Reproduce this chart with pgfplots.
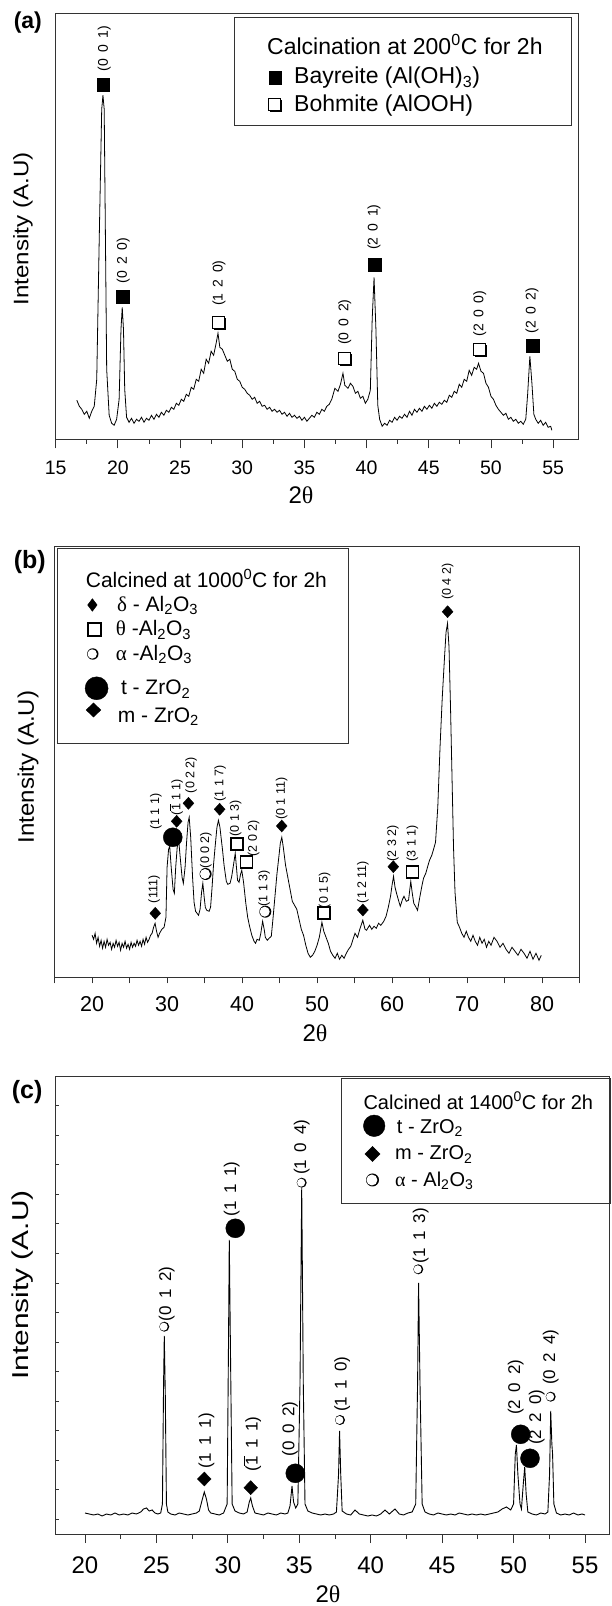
\documentclass[border=0pt]{standalone}
\usepackage{fontspec}
\setmainfont{Liberation Sans}
\newfontfamily\grk{Liberation Serif}
\usepackage{graphicx}
\usepackage{pgfplots}
\pgfplotsset{compat=1.18}

\pgfdeclareplotmark{shsq}{%
  \begin{pgfscope}\pgfsetfillcolor{black}%
  \pgfpathrectangle{\pgfpoint{-\pgfplotmarksize+1.6pt}{-\pgfplotmarksize-1.6pt}}{\pgfpoint{2\pgfplotmarksize}{2\pgfplotmarksize}}%
  \pgfusepathqfill\end{pgfscope}%
  \begin{pgfscope}\pgfsetfillcolor{white}\pgfsetstrokecolor{black}\pgfsetlinewidth{0.8pt}%
  \pgfpathrectangle{\pgfpoint{-\pgfplotmarksize}{-\pgfplotmarksize}}{\pgfpoint{2\pgfplotmarksize}{2\pgfplotmarksize}}%
  \pgfusepathqfillstroke\end{pgfscope}}
\pgfdeclareplotmark{shci}{%
  \begin{pgfscope}\pgfsetfillcolor{black}%
  \pgfpathcircle{\pgfpoint{0pt}{0pt}}{\pgfplotmarksize}\pgfusepathqfill\end{pgfscope}%
  \begin{pgfscope}\pgfsetfillcolor{white}%
  \pgfpathcircle{\pgfpoint{-0.6pt}{0pt}}{\pgfplotmarksize-1.0pt}\pgfusepathqfill\end{pgfscope}}

\newcommand\PP[2]{({#1pt},{1606pt-#2pt})}
\newcommand\mk[3][]{\tikz[#1]{\pgfsetplotmarksize{#2}\pgfuseplotmark{#3}}}
\newcommand\fs[1]{\fontsize{#1}{#1}\selectfont}
\newcommand\hkl[3]{(#1\hspace{.45em}#2\hspace{.45em}#3)}
\newcommand\bone{$\overline{\mbox{1}}$}
\tikzset{
  labA/.style={rotate=90, anchor=west, inner sep=0pt, font=\fs{14}},
  labB/.style={rotate=90, anchor=west, inner sep=0pt, font=\fs{12.5}},
  labC/.style={rotate=90, anchor=west, inner sep=0pt, font=\fs{17}},
}
\pgfplotsset{xrd/.style={scale only axis, anchor=south west,
  axis line style={line width=1pt, black!80},
  tick style={line width=0.9pt, black!80},
  xtick pos=left, ytick=\empty, tick align=outside, clip=false,
  /pgf/number format/assume math mode=true}}

\begin{document}
\begin{tikzpicture}
\path[use as bounding box] (0,0) rectangle (611pt,1606pt);

% ---------------- (a) ----------------
\begin{axis}[xrd, at={(55.7pt,1166.7pt)}, width=522.3pt, height=426pt,
  xmin=15, xmax=57, ymin=0, ymax=426,
  xtick={15,20,...,55}, minor xtick={17.5,22.5,...,52.5},
  major tick length=9pt, minor tick length=4.5pt,
  xticklabel style={font=\fs{19.5}, yshift=-9pt}]
\addplot[black, line width=0.8pt] coordinates {
(16.7,39)(16.9,33)(17.1,30)(17.3,25)(17.5,28)(17.7,21)(17.9,28)(18.1,33)(18.3,60)(18.5,200)(18.7,330)(18.8,344)(18.9,330)(19.0,200)(19.1,70)(19.3,24)(19.5,16)(19.7,14)(19.9,20)(20.1,40)(20.25,110)(20.35,132)(20.45,110)(20.55,50)(20.7,22)(20.9,17)(21.1,21)(21.3,16)(21.5,20)(21.7,18)(21.9,22)(22.1,17)(22.3,21)(22.5,19)(22.7,24)(22.9,20)(23.1,25)(23.3,22)(23.5,27)(23.7,24)(23.9,29)(24.1,27)(24.3,32)(24.5,30)(24.7,36)(24.9,34)(25.1,40)(25.3,38)(25.5,45)(25.7,43)(25.9,52)(26.1,50)(26.3,60)(26.5,58)(26.7,70)(26.9,66)(27.1,80)(27.3,76)(27.5,88)(27.7,84)(27.9,96)(28.05,106)(28.2,92)(28.4,90)(28.6,84)(28.8,78)(29.0,80)(29.2,70)(29.4,68)(29.6,60)(29.8,58)(30.0,52)(30.2,50)(30.4,46)(30.6,44)(30.8,40)(31.0,42)(31.2,36)(31.4,38)(31.6,33)(31.8,34)(32.0,30)(32.2,32)(32.4,28)(32.6,30)(32.8,27)(33.0,29)(33.2,25)(33.4,27)(33.6,23)(33.8,26)(34.0,22)(34.2,24)(34.4,21)(34.6,23)(34.8,19)(35.0,22)(35.2,18)(35.4,21)(35.6,24)(35.8,22)(36.0,27)(36.2,25)(36.4,30)(36.6,28)(36.8,33)(37.0,35)(37.2,40)(37.45,51)(37.7,48)(37.9,55)(38.1,66)(38.25,54)(38.5,51)(38.7,56)(38.9,53)(39.1,46)(39.3,48)(39.5,41)(39.7,43)(39.9,36)(40.1,40)(40.3,49)(40.45,120)(40.6,162)(40.75,110)(40.9,34)(41.05,20)(41.25,13)(41.45,16)(41.65,14)(41.85,19)(42.05,17)(42.25,22)(42.45,19)(42.65,23)(42.85,21)(43.05,25)(43.25,22)(43.45,28)(43.65,24)(43.85,30)(44.05,27)(44.25,31)(44.45,28)(44.65,33)(44.85,30)(45.05,34)(45.25,31)(45.45,36)(45.65,33)(45.85,37)(46.05,35)(46.25,39)(46.45,37)(46.65,44)(46.85,42)(47.05,48)(47.25,46)(47.45,55)(47.65,52)(47.85,60)(48.05,58)(48.25,69)(48.45,64)(48.65,72)(48.85,70)(49.0,76)(49.2,68)(49.4,66)(49.6,56)(49.8,52)(50.0,43)(50.2,40)(50.4,34)(50.6,30)(50.8,27)(51.0,24)(51.2,26)(51.4,20)(51.6,22)(51.8,18)(52.0,20)(52.2,16)(52.4,18)(52.6,15)(52.8,20)(52.95,45)(53.13,83)(53.3,55)(53.45,25)(53.6,20)(53.8,16)(54.0,19)(54.2,14)(54.4,17)(54.6,12)(54.8,13)(54.9,9)};
\addplot[only marks, black, mark=square*, mark size=6.25pt] coordinates {(18.83,354.8)(20.4,142.6)(40.64,174.8)(53.34,93.8)};
\addplot[only marks, black, mark=shsq, mark size=6pt] coordinates {(28.12,116.8)(38.18,80.5)(49.1,89.6)};
\node[labA] at (axis cs:18.9,367.6) {\hkl001};
\node[labA] at (axis cs:20.44,156) {\hkl020};
\node[labA] at (axis cs:28.14,133.3) {\hkl120};
\node[labA] at (axis cs:38.25,94.3) {\hkl002};
\node[labA] at (axis cs:40.6,189.3) {\hkl201};
\node[labA] at (axis cs:49.1,102.6) {\hkl200};
\node[labA] at (axis cs:53.3,106) {\hkl202};
\end{axis}

% ---------------- (b) ----------------
\begin{axis}[xrd, at={(54.6pt,628.7pt)}, width=524.9pt, height=430.6pt,
  xmin=15, xmax=85, ymin=0, ymax=430.6,
  xtick={20,30,...,80}, minor xtick={15,25,...,85},
  major tick length=6pt, minor tick length=6pt,
  xticklabel style={font=\fs{21.5}, yshift=-10pt}]
\addplot[black, line width=0.8pt] coordinates {
(20.0,42)(20.2,38)(20.4,44)(20.6,34)(20.8,40)(21.0,31)(21.2,37)(21.4,29)(21.6,36)(21.8,30)(22.0,38)(22.2,32)(22.4,35)(22.6,28)(22.8,34)(23.0,30)(23.2,37)(23.4,31)(23.6,35)(23.8,27)(24.0,34)(24.2,30)(24.4,36)(24.6,29)(24.8,33)(25.0,28)(25.2,35)(25.4,30)(25.6,34)(25.8,31)(26.0,37)(26.2,32)(26.4,36)(26.6,31)(26.8,38)(27.0,33)(27.2,40)(27.4,35)(27.6,38)(27.8,42)(28.0,44)(28.2,50)(28.4,54)(28.6,46)(28.8,40)(29.0,44)(29.3,48)(29.6,50)(29.85,60)(30.0,110)(30.2,128)(30.35,131)(30.55,110)(30.8,88)(30.97,84)(31.15,110)(31.35,130)(31.55,137)(31.75,120)(32.0,100)(32.17,94)(32.4,110)(32.6,135)(32.8,155)(32.95,160)(33.15,140)(33.4,100)(33.6,75)(33.8,66)(34.0,64)(34.2,62)(34.4,68)(34.6,85)(34.77,94)(34.95,80)(35.1,70)(35.3,67)(35.6,66)(35.8,70)(36.0,90)(36.2,113)(36.4,130)(36.65,150)(36.85,157)(37.05,150)(37.2,140)(37.4,127)(37.6,112)(37.9,96)(38.1,93)(38.4,94)(38.6,100)(38.85,112)(39.09,124)(39.25,110)(39.4,97)(39.6,95)(39.8,103)(39.96,107)(40.2,95)(40.5,74)(40.75,60)(41.0,51)(41.3,42)(41.6,36)(41.8,34)(42.0,38)(42.3,37)(42.5,44)(42.74,56)(42.95,48)(43.1,40)(43.36,37)(43.6,39)(43.9,41)(44.14,60)(44.4,82)(44.66,104)(44.9,120)(45.1,134)(45.3,140)(45.5,130)(45.8,112)(46.1,100)(46.4,88)(46.7,76)(47.0,72)(47.3,68)(47.6,58)(47.9,48)(48.2,42)(48.5,32)(48.8,24)(49.1,20)(49.4,22)(49.7,26)(50.0,32)(50.3,40)(50.65,55)(50.9,46)(51.2,40)(51.5,34)(51.8,26)(52.1,22)(52.4,19)(52.7,24)(53.0,18)(53.3,22)(53.6,19)(53.9,24)(54.2,28)(54.5,31)(54.8,38)(55.06,44)(55.4,40)(55.7,48)(56.1,57)(56.4,48)(56.6,47)(57.0,52)(57.3,48)(57.6,51)(57.9,49)(58.2,54)(58.5,52)(58.9,56)(59.2,61)(59.5,70)(59.8,81)(60.0,92)(60.2,101)(60.4,90)(60.6,84)(60.9,76)(61.1,71)(61.4,78)(61.6,81)(61.9,76)(62.2,77)(62.5,96)(62.7,84)(62.9,74)(63.2,70)(63.4,67)(63.7,80)(64.0,92)(64.2,99)(64.5,104)(64.8,112)(65.0,117)(65.3,122)(65.5,127)(65.8,135)(66.1,170)(66.4,230)(66.7,280)(67.0,320)(67.2,345)(67.4,354)(67.6,330)(67.8,270)(68.0,200)(68.2,130)(68.4,85)(68.7,55)(69.0,50)(69.3,44)(69.6,40)(69.9,46)(70.2,40)(70.5,36)(70.8,42)(71.1,36)(71.4,32)(71.7,40)(72.0,34)(72.3,38)(72.6,30)(72.9,36)(73.2,32)(73.6,40)(74.0,36)(74.4,30)(74.8,34)(75.2,28)(75.6,24)(76.0,30)(76.4,26)(76.8,22)(77.2,28)(77.6,24)(78.0,19)(78.4,26)(78.8,18)(79.2,24)(79.6,17)(79.9,22)};
\addplot[only marks, black, mark=diamond*, mark size=6pt, mark options={xscale=1.2}] coordinates {(28.42,64)(31.28,156)(32.85,174)(37.01,168)(45.29,151.3)(56.11,67.3)(60.17,110.6)(67.41,365.6)};
\addplot[only marks, black, mark=*, mark size=9.5pt] coordinates {(30.76,140)};
\addplot[only marks, black, mark=square, mark size=6pt, mark options={line width=1.8pt, fill=white}] coordinates {(39.3,133.3)(40.6,115)(50.91,64)(62.72,105.6)};
\addplot[only marks, black, mark=shci, mark size=6pt] coordinates {(35.14,103.3)(43.1,65.6)};
\node[labB] at (axis cs:28.26,74) {(111)};
\node[labB] at (axis cs:28.52,147.3) {(1 1 1)};
\node[labB] at (axis cs:31.23,162) {(\bone\ 1 1)};
\node[labB] at (axis cs:33.2,184) {(0 2 2)};
\node[labB] at (axis cs:35.19,109) {(0 0 2)};
\node[labB] at (axis cs:37.06,175.6) {(1 1 7)};
\node[labB] at (axis cs:39.14,140.6) {(0 1 3)};
\node[labB] at (axis cs:41.54,120.6) {(2 0 2)};
\node[labB] at (axis cs:42.94,70.6) {(1 1 3)};
\node[labB] at (axis cs:45.29,157.3) {(0 1 11)};
\node[labB] at (axis cs:51.0,69) {(0 1 5)};
\node[labB] at (axis cs:56.1,74) {(1 2 11)};
\node[labB] at (axis cs:60.1,115.6) {(2 3 2)};
\node[labB] at (axis cs:62.7,115.6) {(3 1 1)};
\node[labB] at (axis cs:67.4,377.3) {(0 4 2)};
\end{axis}

% ---------------- (c) ----------------
\begin{axis}[xrd, at={(55.7pt,72pt)}, width=553.8pt, height=457.3pt,
  xmin=17.949, xmax=56.715, ymin=0, ymax=457.3,
  xtick={20,25,...,55}, minor xtick={22.5,27.5,...,52.5},
  major tick length=9pt, minor tick length=5pt,
  xticklabel style={font=\fs{24}, yshift=-10.5pt}]
\addplot[black, line width=0.9pt] coordinates {
(20.0,21)(20.3,20)(20.6,19)(20.9,20)(21.2,18)(21.5,20)(21.8,19)(22.1,21)(22.4,19)(22.7,20)(23.0,19)(23.3,21)(23.6,20)(23.9,22)(24.1,25)(24.3,26)(24.5,23)(24.7,24)(24.9,21)(25.1,20)(25.3,21)(25.42,30)(25.5,150)(25.55,198)(25.62,140)(25.7,30)(25.8,22)(26.0,20)(26.3,19)(26.6,21)(26.9,20)(27.2,19)(27.5,20)(27.8,21)(28.0,23)(28.2,34)(28.35,42)(28.5,35)(28.65,24)(28.8,21)(29.1,20)(29.4,19)(29.7,21)(29.95,30)(30.05,200)(30.1,294)(30.17,200)(30.3,30)(30.5,23)(30.8,21)(31.1,20)(31.35,22)(31.5,32)(31.6,36)(31.72,28)(31.9,21)(32.2,20)(32.5,19)(32.8,21)(33.1,20)(33.4,19)(33.7,21)(34.0,20)(34.2,21)(34.35,28)(34.49,48)(34.6,32)(34.75,26)(34.9,30)(35.05,150)(35.17,346)(35.28,150)(35.4,30)(35.6,23)(35.9,21)(36.2,20)(36.5,19)(36.8,20)(37.1,19)(37.4,20)(37.6,22)(37.75,60)(37.82,103)(37.9,60)(38.0,23)(38.3,20)(38.6,19)(38.9,24)(39.2,20)(39.5,19)(39.8,18)(40.1,19)(40.4,18)(40.7,20)(41.0,24)(41.3,20)(41.7,25)(42.0,20)(42.3,19)(42.6,21)(42.9,22)(43.15,30)(43.28,150)(43.35,251)(43.45,150)(43.6,30)(43.8,22)(44.1,20)(44.4,19)(44.7,21)(45.0,20)(45.3,19)(45.6,20)(45.9,19)(46.2,21)(46.5,20)(46.8,19)(47.1,20)(47.4,19)(47.7,20)(48.0,19)(48.3,20)(48.6,21)(48.9,22)(49.2,25)(49.5,27)(49.8,24)(50.0,30)(50.12,80)(50.2,89)(50.3,60)(50.45,30)(50.55,25)(50.68,50)(50.78,67)(50.88,40)(51.0,22)(51.3,20)(51.6,19)(51.9,21)(52.2,20)(52.4,22)(52.52,60)(52.6,123)(52.68,90)(52.73,80)(52.82,30)(53.0,21)(53.3,19)(53.6,20)(53.9,19)(54.2,21)(54.5,19)(54.8,20)(55.0,19)};
\addplot[only marks, black, mark=shci, mark size=5pt] coordinates {(25.55,207.3)(35.17,351.3)(37.85,114)(43.33,264.7)(52.6,137.3)};
\addplot[only marks, black, mark=*, mark size=9.5pt] coordinates {(30.52,305.7)(34.72,60.7)(50.5,99.7)(51.15,75.7)};
\addplot[only marks, black, mark=diamond*, mark size=7pt, mark options={xscale=1.3}] coordinates {(28.35,55)(31.6,46.3)};
\node[labC] at (axis cs:25.72,212.3) {\hkl012};
\node[labC] at (axis cs:28.51,65.7) {\hkl111};
\node[labC] at (axis cs:30.27,317.3) {\hkl111};
\node[labC] at (axis cs:31.72,62.3) {\hkl{\bone}11};
\node[labC] at (axis cs:34.35,77.3) {\hkl002};
\node[labC] at (axis cs:35.17,359) {\hkl104};
\node[labC] at (axis cs:38.0,122) {\hkl110};
\node[labC] at (axis cs:43.5,270.7) {\hkl113};
\node[labC] at (axis cs:50.15,119) {\hkl202};
\node[labC] at (axis cs:51.62,89) {\hkl220};
\node[labC] at (axis cs:52.6,149) {\hkl024};
\end{axis}
\begin{axis}[at={(55.7pt,72pt)}, anchor=south west, scale only axis, width=553.8pt, height=457.3pt,
  xmin=17.949, xmax=56.715, ymin=0, ymax=457.3,
  axis x line=none, axis y line*=left,
  axis line style={line width=1pt, black!80}, tick style={line width=0.9pt, black!80},
  ytick={14.7,44.24,73.78,103.32,132.86,162.4,191.94,221.48,251.02,280.56,310.1,339.64,369.18,398.72,428.26},
  yticklabels={}, tick align=inside, major tick length=3pt]
\addplot[draw=none] coordinates {(20,0)};
\end{axis}

% ---------------- panel letters, axis titles ----------------
\node[anchor=base west, inner sep=0pt, font=\fs{23}\bfseries] at \PP{13.6}{28.3} {(a)};
\node[anchor=base west, inner sep=0pt, font=\fs{25}\bfseries] at \PP{13.6}{568.3} {(b)};
\node[anchor=base west, inner sep=0pt, font=\fs{25}\bfseries] at \PP{11.7}{1098.3} {(c)};
\node[font=\fs{24}, inner sep=0pt, anchor=base] at \PP{301}{504} {2{\grk θ}};
\node[font=\fs{24}, inner sep=0pt, anchor=base] at \PP{315}{1042} {2{\grk θ}};
\node[font=\fs{24}, inner sep=0pt, anchor=base] at \PP{328}{1602.5} {2{\grk θ}};
\node[rotate=90, font=\fs{21}, inner sep=0pt] at \PP{23}{229} {\scalebox{1.15}[1]{Intensity (A.U)}};
\node[rotate=90, font=\fs{22.5}, inner sep=0pt] at \PP{28}{767} {\scalebox{1.07}[1]{Intensity (A.U)}};
\node[rotate=90, font=\fs{23}, inner sep=0pt] at \PP{22.5}{1285} {\scalebox{1.3}[1]{Intensity (A.U)}};

% ---------------- legend (a) ----------------
\draw[line width=1pt, black!80] \PP{234}{18} rectangle \PP{571}{126};
\node[anchor=base west, inner sep=0pt, font=\fs{23}] at \PP{267}{55} {Calcination at 200\textsuperscript{0}C for 2h};
\node[inner sep=0pt] at \PP{275}{77.8} {\mk{6.25pt}{square*}};
\node[anchor=base west, inner sep=0pt, font=\fs{23}] at \PP{294}{83.3} {Bayreite (Al(OH)\textsubscript{3})};
\node[inner sep=0pt] at \PP{275}{105.3} {\mk{6pt}{shsq}};
\node[anchor=base west, inner sep=0pt, font=\fs{23}] at \PP{294}{111.7} {Bohmite (AlOOH)};

% ---------------- legend (b) ----------------
\draw[line width=1pt, black!80] \PP{57.7}{549} rectangle \PP{348}{743.3};
\node[anchor=base west, inner sep=0pt, font=\fs{21}] at \PP{85.7}{587.3} {Calcined at 1000\textsuperscript{0}C for 2h};
\node[inner sep=0pt] at \PP{92.4}{605} {\mk{6.3pt}{diamond*}};
\node[anchor=base west, inner sep=0pt, font=\fs{21}] at \PP{117}{611.7} {{\grk δ} - Al\textsubscript{2}O\textsubscript{3}};
\node[inner sep=0pt] at \PP{94.3}{629.3} {\mk[line width=2pt]{6.3pt}{square}};
\node[anchor=base west, inner sep=0pt, font=\fs{21}] at \PP{115.7}{636} {{\grk θ} -Al\textsubscript{2}O\textsubscript{3}};
\node[inner sep=0pt] at \PP{92.8}{654} {\mk{5.7pt}{shci}};
\node[anchor=base west, inner sep=0pt, font=\fs{21}] at \PP{115.7}{660.7} {{\grk α} -Al\textsubscript{2}O\textsubscript{3}};
\node[inner sep=0pt] at \PP{96.6}{688.3} {\mk{11.5pt}{*}};
\node[anchor=base west, inner sep=0pt, font=\fs{21}] at \PP{120.8}{695} {t - ZrO\textsubscript{2}};
\node[inner sep=0pt] at \PP{93.5}{710} {\mk[xscale=1.4]{7pt}{diamond*}};
\node[anchor=base west, inner sep=0pt, font=\fs{21}] at \PP{117.7}{722.5} {m - ZrO\textsubscript{2}};

% ---------------- legend (c) ----------------
\draw[line width=1pt, black!80] \PP{341.7}{1078.3} rectangle \PP{610.5}{1203.3};
\node[anchor=base west, inner sep=0pt, font=\fs{20}] at \PP{363.3}{1109.3} {Calcined at 1400\textsuperscript{0}C for 2h};
\node[inner sep=0pt] at \PP{374.2}{1125.8} {\mk{10.8pt}{*}};
\node[anchor=base west, inner sep=0pt, font=\fs{20}] at \PP{396.7}{1133.3} {t - ZrO\textsubscript{2}};
\node[inner sep=0pt] at \PP{372.5}{1154} {\mk[xscale=1.33]{7.5pt}{diamond*}};
\node[anchor=base west, inner sep=0pt, font=\fs{20}] at \PP{395}{1160} {m - ZrO\textsubscript{2}};
\node[inner sep=0pt] at \PP{372.5}{1180} {\mk{6.5pt}{shci}};
\node[anchor=base west, inner sep=0pt, font=\fs{20}] at \PP{395}{1186.7} {{\grk α} - Al\textsubscript{2}O\textsubscript{3}};
\end{tikzpicture}
\end{document}
